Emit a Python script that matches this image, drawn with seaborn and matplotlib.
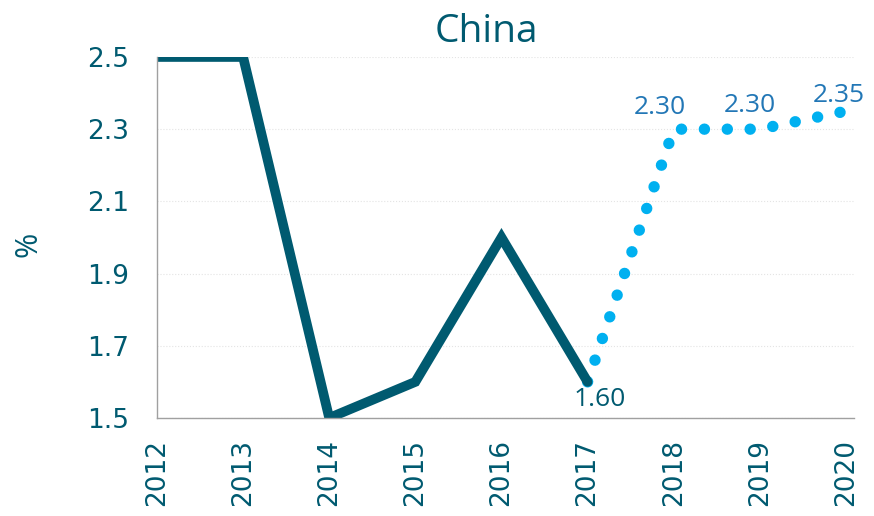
import matplotlib
matplotlib.use("Agg")
import matplotlib.pyplot as plt
import seaborn as sns
import pandas as pd

# actual series
years_actual = [2012, 2013, 2014, 2015, 2016, 2017]
values_actual = [2.5, 2.5, 1.5, 1.6, 2.0, 1.6]

# forecast series
years_forecast = [2017, 2018, 2019, 2020]
values_forecast = [1.6, 2.3, 2.3, 2.35]

y_ticks = [1.5, 1.7, 1.9, 2.1, 2.3, 2.5]
x_ticks = [2012, 2013, 2014, 2015, 2016, 2017, 2018, 2019, 2020]

dark = "#005a70"
light = "#00b0f0"
label_blue = "#2277b6"

sns.set_style("white")
plt.rcParams["font.family"] = ["DejaVu Sans"]
label_font = ["Open Sans", "DejaVu Sans"]

df_a = pd.DataFrame({"year": years_actual, "value": values_actual})
df_f = pd.DataFrame({"year": years_forecast, "value": values_forecast})

fig = plt.figure(figsize=(8.74, 5.16), dpi=100)
ax = fig.add_axes([0.1796, 0.190, 0.7975, 0.6996])

sns.lineplot(data=df_f, x="year", y="value", ax=ax, color=light, lw=8.2,
             linestyle=(0, (0.01, 2.0)), dash_capstyle="round")
sns.lineplot(data=df_a, x="year", y="value", ax=ax, color=dark, lw=7,
             solid_capstyle="round", solid_joinstyle="miter")

ax.set_xlim(2012, 2020.093)
ax.set_ylim(1.5, 2.5)
ax.set_xticks(x_ticks)
ax.set_xticklabels([str(x) for x in x_ticks], rotation=90)
ax.set_yticks(y_ticks)
ax.set_yticklabels([f"{v:.1f}" for v in y_ticks])
ax.tick_params(axis="both", colors="#a0a0a0", labelcolor=dark, labelsize=19,
               length=8, width=1, direction="out")
ax.tick_params(axis="x", pad=7)
ax.tick_params(axis="y", pad=12)

for s in ["top", "right"]:
    ax.spines[s].set_visible(False)
for s in ["left", "bottom"]:
    ax.spines[s].set_color("#a0a0a0")
    ax.spines[s].set_linewidth(1)

ax.grid(axis="y", color="#e4e4e4", linestyle=":", linewidth=0.8)
ax.set_axisbelow(True)

ax.set_xlabel("")
ax.set_ylabel("")
fig.text(29 / 874, 1 - 244 / 516, "%", rotation=90, ha="center", va="center",
         fontsize=22, color=dark, family=label_font)
ax.set_title("China", fontsize=28, color=dark, family=label_font, pad=11, x=0.472)

# data labels
ax.annotate(f"{values_actual[-1]:.2f}", (years_actual[-1], values_actual[-1]),
            xytext=(8.5, -17.5), textcoords="offset points", ha="center", va="baseline",
            fontsize=19, color=dark, family=label_font)
fc_offsets = [(-10, 10.8), (-7, 12.2), (-5, 6.5)]
for yr, v, off in zip(years_forecast[1:], values_forecast[1:], fc_offsets):
    ax.annotate(f"{v:.2f}", (yr, v), xytext=off, textcoords="offset points",
                ha="center", va="baseline", fontsize=19, color=label_blue,
                family=label_font, annotation_clip=False)

fig.savefig("out.png", dpi=100)
